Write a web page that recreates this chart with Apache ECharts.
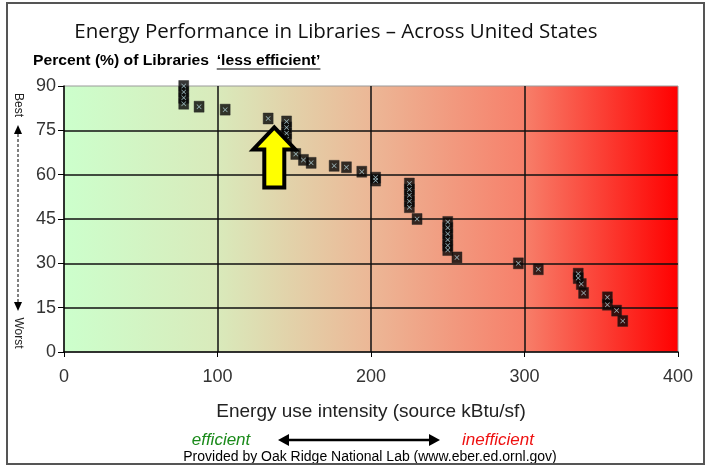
<!DOCTYPE html>
<html>
<head>
<meta charset="utf-8">
<script src="https://cdn.jsdelivr.net/npm/echarts@6/dist/echarts.min.js"></script>
<style>html,body{margin:0;padding:0;background:#fff}#c{width:707px;height:470px}</style>
</head>
<body>
<div id="c"></div>
<script>
// ---- data ----
const titleText = 'Energy Performance in Libraries \u2013 Across United States';
const yTitleText = 'Percent (%) of Libraries ';
const yTitleEmph = '\u2018less efficient\u2019';
const xAxisName = 'Energy use intensity (source kBtu/sf)';
const xTicks = [0, 100, 200, 300, 400];
const yTicks = [0, 15, 30, 45, 60, 75, 90];
// source EUI (kBtu/sf)
const euiValues = [78, 78, 78, 78, 88, 105, 133, 145, 145, 145, 145, 151, 156, 161,
  176, 184, 194, 203, 203, 225, 225, 225, 225, 225, 230,
  250, 250, 250, 250, 250, 250, 256, 296, 309, 335, 335, 337, 338.5, 354, 354, 360, 364];
// percent of libraries less efficient
const pctValues = [90, 88, 86, 84, 83, 82, 79, 78, 76, 74, 72, 67, 65, 64,
  63, 62.5, 61, 59, 58, 57, 55, 53, 51, 49, 45,
  44, 42, 40, 38, 36, 34.5, 32, 30, 28, 26.5, 25, 23, 20, 18.5, 16, 14, 10.5];
const points = euiValues.map((v, i) => [v, pctValues[i]]);

const chart = echarts.init(document.getElementById('c'), null, {renderer: 'canvas'});
const crossPath = 'path://M0,1L1,0L5,4L9,0L10,1L6,5L10,9L9,10L5,6L1,10L0,9L4,5Z';
const sans = '"Liberation Sans", Arial, sans-serif';

chart.setOption({
  animation: false,
  grid: {
    left: 64, top: 86, right: 29, bottom: 118,
    show: true,
    borderColor: '#9a9a9a', borderWidth: 1,
    backgroundColor: {
      type: 'linear', x: 0, y: 0, x2: 1, y2: 0,
      colorStops: [
        {offset: 0, color: '#ccffcc'},
        {offset: 0.25, color: '#d9eabb'},
        {offset: 0.5, color: '#ecb796'},
        {offset: 0.75, color: '#f77f6a'},
        {offset: 1, color: '#ff0000'}
      ]
    }
  },
  xAxis: {
    type: 'value', min: xTicks[0], max: xTicks[xTicks.length - 1], interval: 100,
    axisLine: {show: true, lineStyle: {color: '#000', width: 1.5}},
    axisTick: {show: true, length: 5, lineStyle: {color: '#000'}},
    axisLabel: {color: '#333', fontSize: 18, fontFamily: sans, margin: 16},
    splitLine: {show: true, showMinLine: false, showMaxLine: false, lineStyle: {color: '#111', width: 1.5}}
  },
  yAxis: {
    type: 'value', min: yTicks[0], max: yTicks[yTicks.length - 1], interval: 15,
    axisLine: {show: true, lineStyle: {color: '#000', width: 1.5}},
    axisTick: {show: true, length: 6, lineStyle: {color: '#000'}},
    axisLabel: {color: '#333', fontSize: 18, fontFamily: sans, margin: 8},
    splitLine: {show: true, showMinLine: false, showMaxLine: false, lineStyle: {color: '#111', width: 1.5}}
  },
  series: [
    {
      type: 'scatter', data: points, symbol: 'rect', symbolSize: [10, 11],
      itemStyle: {color: '#050505', borderColor: '#222', borderWidth: 0.5}, z: 3
    },
    {
      type: 'scatter', data: points, symbol: crossPath, symbolSize: 5,
      itemStyle: {color: '#b9dde6'}, z: 4, silent: true
    }
  ]
});

function measure(text, font) {
  const ctx = document.createElement('canvas').getContext('2d');
  ctx.font = font;
  return ctx.measureText(text).width;
}

function place() {
  const tip = chart.convertToPixel({gridIndex: 0}, [137, 76]);
  const tx = tip[0], ty = tip[1];
  const arrow = [
    [tx, ty], [tx + 21, ty + 22], [tx + 10, ty + 22], [tx + 10, ty + 60],
    [tx - 10, ty + 60], [tx - 10, ty + 22], [tx - 21, ty + 22]
  ];
  const subFont = 'bold 14px "Liberation Sans", Arial, sans-serif';
  const sx = 1.12;
  const uStart = 33 + (measure(yTitleText, subFont) + 3) * sx;
  const uEnd = uStart + measure(yTitleEmph, subFont) * sx;
  chart.setOption({
    graphic: [
      {type: 'rect', shape: {x: 7, y: 3, width: 697, height: 461}, style: {fill: 'none', stroke: '#555', lineWidth: 2}, z: 100},
      {type: 'text', x: 336, y: 32, style: {text: titleText, font: '20.5px "Open Sans", "Noto Sans", sans-serif', fill: '#111', align: 'center', verticalAlign: 'middle'}},
      {type: 'text', x: 33, y: 61, scaleX: sx, style: {text: yTitleText, font: subFont, fill: '#000', align: 'left', verticalAlign: 'middle'}},
      {type: 'text', x: uStart, y: 61, scaleX: sx, style: {text: yTitleEmph, font: subFont, fill: '#000', align: 'left', verticalAlign: 'middle'}},
      {type: 'line', shape: {x1: uStart, y1: 69, x2: uEnd, y2: 69}, style: {stroke: '#000', lineWidth: 1.2}},
      {type: 'text', x: 18, y: 105, rotation: -Math.PI / 2, style: {text: 'Best', font: '12px ' + sans, fill: '#222', align: 'center', verticalAlign: 'middle'}},
      {type: 'text', x: 18, y: 333, rotation: -Math.PI / 2, style: {text: 'Worst', font: '12px ' + sans, fill: '#222', align: 'center', verticalAlign: 'middle'}},
      {type: 'polygon', shape: {points: [[18, 125], [22, 134], [14, 134]]}, style: {fill: '#000'}},
      {type: 'polygon', shape: {points: [[18, 311], [22, 302], [14, 302]]}, style: {fill: '#000'}},
      {type: 'line', shape: {x1: 18, y1: 134, x2: 18, y2: 302}, style: {stroke: '#000', lineWidth: 1, lineDash: [3, 2]}},
      {type: 'polygon', shape: {points: arrow}, style: {fill: '#ffff00', stroke: '#000', lineWidth: 4, lineJoin: 'miter'}, z: 50},
      {type: 'text', x: 371, y: 412, style: {text: xAxisName, font: '19px ' + sans, fill: '#222', align: 'center', verticalAlign: 'middle'}},
      {type: 'text', x: 221, y: 440, style: {text: 'efficient', font: 'italic 17px ' + sans, fill: '#1a8a1a', align: 'center', verticalAlign: 'middle'}},
      {type: 'text', x: 498, y: 440, style: {text: 'inefficient', font: 'italic 17px ' + sans, fill: '#ee1111', align: 'center', verticalAlign: 'middle'}},
      {type: 'line', shape: {x1: 286, y1: 440, x2: 432, y2: 440}, style: {stroke: '#000', lineWidth: 2.5}},
      {type: 'polygon', shape: {points: [[278, 440], [289, 434], [289, 446]]}, style: {fill: '#000'}},
      {type: 'polygon', shape: {points: [[440, 440], [429, 434], [429, 446]]}, style: {fill: '#000'}},
      {type: 'text', x: 370, y: 457, style: {text: 'Provided by Oak Ridge National Lab (www.eber.ed.ornl.gov)', font: '14px ' + sans, fill: '#000', align: 'center', verticalAlign: 'middle'}}
    ]
  });
}
place();
</script>
</body>
</html>
